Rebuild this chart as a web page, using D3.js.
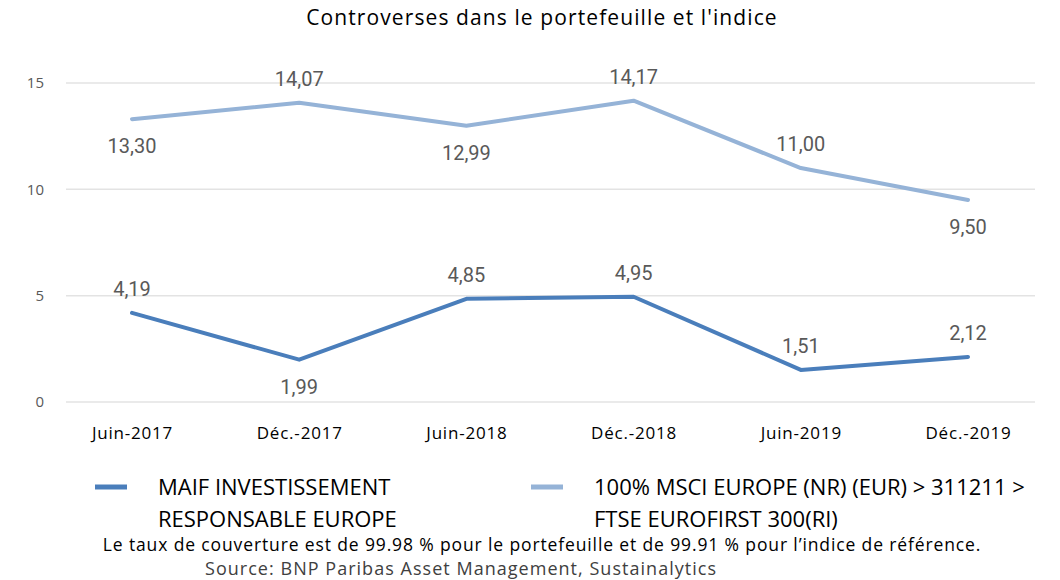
<!DOCTYPE html>
<html>
<head>
<meta charset="utf-8">
<script src="https://cdn.jsdelivr.net/npm/d3@7"></script>
<style>
  body { margin: 0; background: #fff; }
  svg { display: block; }
</style>
</head>
<body>
<svg width="1060" height="580"></svg>
<script>
// données
var periodes = ["Juin-2017", "Déc.-2017", "Juin-2018", "Déc.-2018", "Juin-2019", "Déc.-2019"];
var portefeuille = [4.19, 1.99, 4.85, 4.95, 1.51, 2.12];
var indice = [13.30, 14.07, 12.99, 14.17, 11.00, 9.50];
var yTicks = [0, 5, 10, 15];
// position des étiquettes : 1 = au-dessus, -1 = en dessous
var posPortefeuille = [1, -1, 1, 1, 1, 1];
var posIndice = [-1, 1, -1, 1, 1, -1];

var svg = d3.select("svg");
var fontTxt = "'Open Sans', sans-serif";

var x = d3.scalePoint()
    .domain(periodes)
    .range([132, 968]);

var y = d3.scaleLinear()
    .domain([0, 15])
    .range([402, 83]);

// titre
svg.append("text")
    .attr("x", 542)
    .attr("y", 25)
    .attr("text-anchor", "middle")
    .attr("font-family", fontTxt)
    .attr("font-size", 21)
    .attr("letter-spacing", 1.1)
    .attr("fill", "#000")
    .text("Controverses dans le portefeuille et l'indice");

// grille
svg.selectAll("line.grid")
    .data(yTicks)
    .enter()
    .append("line")
    .attr("class", "grid")
    .attr("x1", 66)
    .attr("x2", 1035)
    .attr("y1", function (d) { return y(d); })
    .attr("y2", function (d) { return y(d); })
    .attr("stroke", "#e3e3e3")
    .attr("stroke-width", 1.5);

var yAxis = d3.axisLeft(y).tickValues(yTicks).tickSize(0).tickPadding(0);
var gy = svg.append("g")
    .attr("transform", "translate(44,0)")
    .call(yAxis);
gy.select(".domain").remove();
gy.selectAll("text")
    .attr("font-family", "'Open Sans', sans-serif")
    .attr("font-size", 15)
    .attr("fill", "#595959");

var xAxis = d3.axisBottom(x).tickSize(0).tickPadding(0);
var gx = svg.append("g")
    .attr("transform", "translate(0,427)")
    .call(xAxis);
gx.select(".domain").remove();
gx.selectAll("text")
    .attr("font-family", fontTxt)
    .attr("font-size", 17)
    .attr("letter-spacing", 0.8)
    .attr("fill", "#000");

var line = d3.line()
    .x(function (d, i) { return x(periodes[i]); })
    .y(function (d) { return y(d); });

function serie(valeurs, positions, couleur) {
    svg.append("path")
        .datum(valeurs)
        .attr("d", line)
        .attr("fill", "none")
        .attr("stroke", couleur)
        .attr("stroke-width", 4)
        .attr("stroke-linejoin", "round")
        .attr("stroke-linecap", "round");

    svg.selectAll(null)
        .data(valeurs)
        .enter()
        .append("text")
        .attr("x", function (d, i) { return x(periodes[i]); })
        .attr("y", function (d, i) { return y(d) + (positions[i] > 0 ? -17 : 34); })
        .attr("text-anchor", "middle")
        .attr("font-family", "Roboto, sans-serif")
        .attr("font-size", 20)
        .attr("fill", "#595959")
        .text(function (d) { return d3.format(".2f")(d).replace(".", ","); });
}

serie(indice, posIndice, "#95b3d7");
serie(portefeuille, posPortefeuille, "#4a7ebb");

// légende
var legende = [
    { couleur: "#4a7ebb", x: 95, lignes: ["MAIF INVESTISSEMENT", "RESPONSABLE EUROPE"] },
    { couleur: "#95b3d7", x: 531, lignes: ["100% MSCI EUROPE (NR) (EUR) > 311211 >", "FTSE EUROFIRST 300(RI)"] }
];
legende.forEach(function (l) {
    svg.append("line")
        .attr("x1", l.x).attr("x2", l.x + 32)
        .attr("y1", 487).attr("y2", 487)
        .attr("stroke", l.couleur)
        .attr("stroke-width", 5);
    l.lignes.forEach(function (t, j) {
        svg.append("text")
            .attr("x", l.x + 63)
            .attr("y", 495 + j * 32)
            .attr("font-family", fontTxt)
            .attr("font-size", 22)
            .attr("fill", "#000")
            .text(t);
    });
});

// notes
svg.append("text")
    .attr("x", 542)
    .attr("y", 551)
    .attr("text-anchor", "middle")
    .attr("font-family", fontTxt)
    .attr("font-size", 17.5)
    .attr("letter-spacing", 0.87)
    .attr("fill", "#000")
    .text("Le taux de couverture est de 99.98 % pour le portefeuille et de 99.91 % pour l’indice de référence.");

svg.append("text")
    .attr("x", 205)
    .attr("y", 575)
    .attr("font-family", fontTxt)
    .attr("font-size", 18)
    .attr("letter-spacing", 1.03)
    .attr("fill", "#404040")
    .text("Source: BNP Paribas Asset Management, Sustainalytics");
</script>
</body>
</html>
